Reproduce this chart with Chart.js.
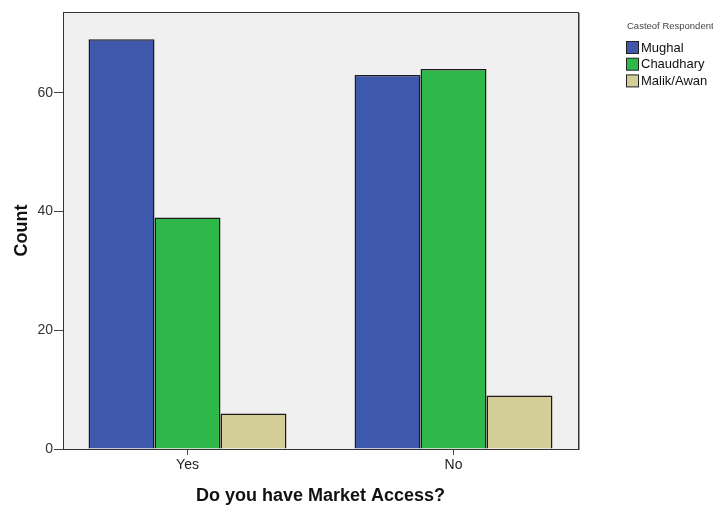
<!DOCTYPE html>
<html>
<head>
<meta charset="utf-8">
<script src="https://cdn.jsdelivr.net/npm/chart.js@4"></script>
<style>
  html, body { margin: 0; padding: 0; background: #ffffff; }
  canvas { display: block; }
</style>
</head>
<body>
<canvas id="c" width="713" height="507"></canvas>
<script>
const categories = ['Yes', 'No'];
const mughal = [69, 63];
const chaudhary = [39, 64];
const malikAwan = [6, 9];
const seriesNames = ['Mughal', 'Chaudhary', 'Malik/Awan'];
const yTicks = [0, 20, 40, 60];
const legendTitle = 'Casteof Respondent';
const xTitle = 'Do you have Market Access?';
const yTitle = 'Count';

const colors = ['#3e58ac', '#2eb84a', '#d3ce97'];
const FONT = '"Liberation Sans", Arial, sans-serif';

function toPoints(vals) { return vals.map((v, i) => ({ x: i, y: v })); }

const plotFrame = {
  id: 'plotFrame',
  beforeDraw(chart) {
    const a = chart.chartArea, ctx = chart.ctx;
    ctx.save();
    ctx.fillStyle = '#f0f0f0';
    ctx.fillRect(a.left, a.top, a.right - a.left, a.bottom - a.top);
    ctx.restore();
  },
  afterDraw(chart) {
    const a = chart.chartArea, ctx = chart.ctx;
    ctx.save();
    ctx.strokeStyle = '#333';
    ctx.lineWidth = 1;
    ctx.strokeRect(Math.round(a.left) + 0.5, Math.round(a.top) + 0.5,
                   Math.round(a.right - a.left), Math.round(a.bottom - a.top));
    ctx.strokeStyle = '#999';
    ctx.beginPath();
    ctx.moveTo(Math.round(a.right) + 1.5, Math.round(a.top) + 1);
    ctx.lineTo(Math.round(a.right) + 1.5, Math.round(a.bottom) + 1);
    ctx.stroke();
    ctx.restore();
  }
};

const sideLegend = {
  id: 'sideLegend',
  afterDraw(chart) {
    const ctx = chart.ctx;
    ctx.save();
    ctx.textBaseline = 'middle';
    ctx.textAlign = 'left';
    ctx.fillStyle = '#444';
    ctx.font = '9.5px ' + FONT;
    ctx.fillText(legendTitle, 627, 26);
    ctx.font = '13px ' + FONT;
    chart.data.datasets.forEach((ds, i) => {
      const y = 41 + i * 16.7;
      ctx.fillStyle = ds.backgroundColor;
      ctx.fillRect(626.5, y + 0.5, 12, 12);
      ctx.strokeStyle = '#222';
      ctx.lineWidth = 1;
      ctx.strokeRect(626.5, y + 0.5, 12, 12);
      ctx.fillStyle = '#111';
      ctx.fillText(ds.label, 641, y + 7);
    });
    ctx.restore();
  }
};

const datasets = [mughal, chaudhary, malikAwan].map((vals, i) => ({
  label: seriesNames[i],
  data: toPoints(vals),
  backgroundColor: colors[i],
  borderColor: '#1a1a1a',
  borderWidth: 1.5,
  borderSkipped: 'bottom',
  categoryPercentage: 0.744,
  barPercentage: 1.0
}));

new Chart(document.getElementById('c'), {
  type: 'bar',
  data: { datasets },
  plugins: [plotFrame, sideLegend],
  options: {
    responsive: false,
    animation: false,
    devicePixelRatio: 1,
    layout: { padding: { left: 0, top: 12, right: 135, bottom: 0 } },
    plugins: { legend: { display: false }, tooltip: { enabled: false } },
    scales: {
      x: {
        type: 'linear',
        offset: false,
        min: -0.468,
        max: 1.468,
        afterBuildTicks: s => { s.ticks = categories.map((c, i) => ({ value: i })); },
        afterFit: s => { s.height = 58; },
        grid: { display: true, drawOnChartArea: false, offset: false, tickLength: 6, color: '#444' },
        border: { display: true, color: '#333' },
        ticks: {
          callback: v => categories[v],
          font: { family: FONT, size: 14 },
          color: '#222',
          padding: 2,
          maxRotation: 0,
          autoSkip: false
        },
        title: {
          display: true,
          text: xTitle,
          font: { family: FONT, size: 18, weight: 'bold' },
          color: '#111',
          padding: { top: 4, bottom: 0 }
        }
      },
      y: {
        min: 0,
        max: 73.6,
        afterBuildTicks: s => { s.ticks = yTicks.map(v => ({ value: v })); },
        afterFit: s => { s.width = 63; },
        grid: { display: true, drawOnChartArea: false, tickLength: 9, color: '#444' },
        border: { display: true, color: '#333' },
        ticks: {
          font: { family: FONT, size: 14 },
          color: '#333',
          padding: 1
        },
        title: {
          display: true,
          text: yTitle,
          font: { family: FONT, size: 18, weight: 'bold' },
          color: '#111',
          padding: { top: 11, bottom: 0 }
        }
      }
    }
  }
});
</script>
</body>
</html>
